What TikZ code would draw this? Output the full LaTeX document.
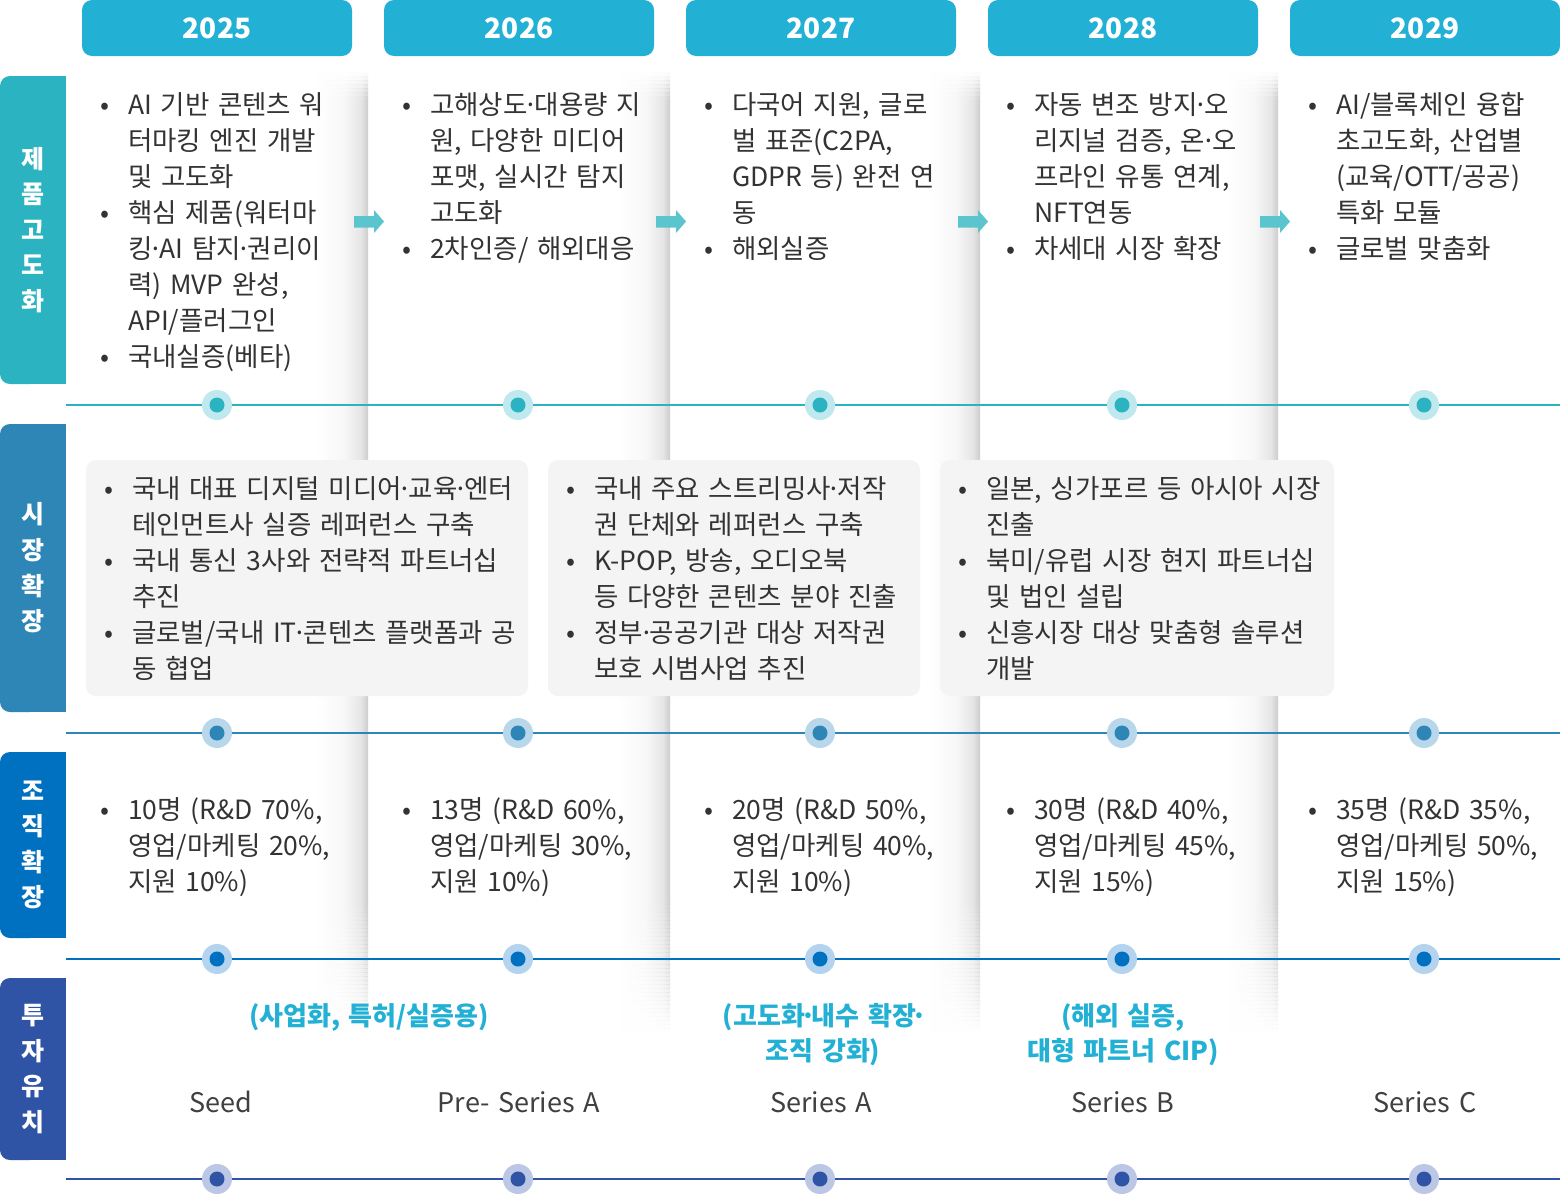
\documentclass[tikz,border=0pt]{standalone}
\usepackage{fontspec}
\setmainfont{Noto Sans CJK KR}[WordSpace=1.45]
\definecolor{hdr}{HTML}{22B0D4}
\definecolor{cA}{HTML}{2BB3C1}\definecolor{hA}{HTML}{BFE9EE}
\definecolor{cB}{HTML}{2E86B6}\definecolor{hB}{HTML}{B9D7EA}
\definecolor{cC}{HTML}{0070C0}\definecolor{hC}{HTML}{B3D3EF}
\definecolor{cD}{HTML}{2F53A5}\definecolor{hD}{HTML}{BCC7E5}
\definecolor{arr}{HTML}{5AC5CD}
\definecolor{txt}{HTML}{333333}
\definecolor{sertxt}{HTML}{404040}
\definecolor{boxg}{HTML}{F4F4F4}
\pgfdeclarehorizontalshading{colsh}{100bp}{color(0bp)=(white); color(25bp)=(white); color(52bp)=(white!97!black); color(68bp)=(white!90!black); color(75bp)=(white!80!black); color(100bp)=(white!80!black)}
\newcommand\bu{\makebox[28pt][l]{•}}
\newcommand\md{\makebox[7pt][c]{·}}
\newcommand\blist[1]{\begin{tabular}[t]{@{}l@{}l@{}}#1\end{tabular}}
\begin{document}
\begin{tikzpicture}[x=1pt,y=-1pt,
  body/.style={anchor=base west, inner sep=0pt, text=txt, font=\fontsize{26.5}{36}\selectfont},
  yr/.style={text=white, font=\fontsize{28}{30}\selectfont\bfseries, anchor=base, inner sep=0pt},
  lab/.style={text=white, font=\fontsize{25}{35.6}\selectfont\bfseries, align=center, inner sep=0pt},
  inv/.style={text=hdr, font=\fontsize{26}{35}\selectfont\bfseries, anchor=base, inner sep=0pt},
  ser/.style={text=sertxt, font=\fontsize{27}{30}\selectfont, anchor=base, inner sep=0pt},
  hbox/.style={fill=hdr, rounded corners=10pt},
  gbox/.style={fill=boxg, rounded corners=10pt},
  arrowshape/.style={fill=arr}
]
\useasboundingbox (0,0) rectangle (1560,1194);
\fill[white] (0,0) rectangle (1560,1194);

% column shadows
\foreach \e in {368,670,980,1278}{
  \shade[shading=colsh] (\e-52,100) rectangle (\e,900);
  \foreach \k in {0,...,6}{
    \pgfmathsetmacro\op{(\k+0.5)/7}
    \shade[shading=colsh, opacity=\op] (\e-52,72+4*\k) rectangle (\e,76.3+4*\k);
  }
  \foreach \k in {0,...,32}{
    \pgfmathsetmacro\op{1-(\k+0.5)/33}
    \shade[shading=colsh, opacity=\op] (\e-52,900+4*\k) rectangle (\e,904.3+4*\k);
  }
}

% year headers
\foreach \x/\y in {82/2025,384/2026,686/2027,988/2028,1290/2029}{
  \fill[hbox] (\x,0) rectangle (\x+270,56);
  \node[yr] (y\y) at (\x+135,38) {\y};
}

% left labels
\fill[cA, rounded corners=10pt] (0,76) rectangle (40,384); \fill[cA] (20,76) rectangle (66,384);
\fill[cB, rounded corners=10pt] (0,424) rectangle (40,712); \fill[cB] (20,424) rectangle (66,712);
\fill[cC, rounded corners=10pt] (0,752) rectangle (40,938); \fill[cC] (20,752) rectangle (66,938);
\fill[cD, rounded corners=10pt] (0,978) rectangle (40,1160); \fill[cD] (20,978) rectangle (66,1160);
\node[lab] (labA) at (33,230) {제\\품\\고\\도\\화};
\node[lab] (labB) at (33,568) {시\\장\\확\\장};
\node[lab] (labC) at (33,845) {조\\직\\확\\장};
\node[lab] (labD) at (33,1069) {투\\자\\유\\치};

% timelines
\foreach \yy/\c/\h [count=\r] in {405/cA/hA,733/cB/hB,959/cC/hC,1179/cD/hD}{
  \draw[\c, line width=2.2pt] (66,\yy) -- (1560,\yy);
  \foreach \x [count=\i] in {217,518,820,1122,1424}{
    \fill[\h] (\x,\yy) circle (15pt);
    \fill[\c] (\x,\yy) circle (7.5pt);
    \coordinate (d\r-\i) at (\x,\yy);
  }
}

% arrows
\foreach \x in {354,656,958,1260}{
  \fill[arrowshape] (\x,216) -- (\x+20,216) -- (\x+20,210) -- (\x+30,221.5) -- (\x+20,233) -- (\x+20,227.5) -- (\x,227.5) -- cycle;
}

% row 1
\node[body] (r1c1) at (100,114) {\blist{\bu & AI 기반 콘텐츠 워\\ & 터마킹 엔진 개발\\ & 및 고도화\\ \bu & 핵심 제품(워터마\\ & 킹\md AI 탐지\md 권리이\\ & 력) MVP 완성,\\ & API/플러그인\\ \bu & 국내실증(베타)}};
\node[body] (r1c2) at (402,114) {\blist{\bu & 고해상도\md 대용량 지\\ & 원, 다양한 미디어\\ & 포맷, 실시간 탐지\\ & 고도화\\ \bu & 2차인증/ 해외대응}};
\node[body] (r1c3) at (704,114) {\blist{\bu & 다국어 지원, 글로\\ & 벌 표준(C2PA,\\ & GDPR 등) 완전 연\\ & 동\\ \bu & 해외실증}};
\node[body] (r1c4) at (1006,114) {\blist{\bu & 자동 변조 방지\md 오\\ & 리지널 검증, 온\md 오\\ & 프라인 유통 연계,\\ & NFT연동\\ \bu & 차세대 시장 확장}};
\node[body] (r1c5) at (1308,114) {\blist{\bu & AI/블록체인 융합\\ & 초고도화, 산업별\\ & (교육/OTT/공공)\\ & 특화 모듈\\ \bu & 글로벌 맞춤화}};

% row 2
\fill[gbox] (86,460) rectangle (528,696);
\fill[gbox] (548,460) rectangle (920,696);
\fill[gbox] (940,460) rectangle (1334,696);
\node[body] (r2c1) at (104,498) {\blist{\bu & 국내 대표 디지털 미디어\md 교육\md 엔터\\ & 테인먼트사 실증 레퍼런스 구축\\ \bu & 국내 통신 3사와 전략적 파트너십\\ & 추진\\ \bu & 글로벌/국내 IT\md 콘텐츠 플랫폼과 공\\ & 동 협업}};
\node[body] (r2c2) at (566,498) {\blist{\bu & 국내 주요 스트리밍사\md 저작\\ & 권 단체와 레퍼런스 구축\\ \bu & K-POP, 방송, 오디오북\\ & 등 다양한 콘텐츠 분야 진출\\ \bu & 정부\md 공공기관 대상 저작권\\ & 보호 시범사업 추진}};
\node[body] (r2c3) at (958,498) {\blist{\bu & 일본, 싱가포르 등 아시아 시장\\ & 진출\\ \bu & 북미/유럽 시장 현지 파트너십\\ & 및 법인 설립\\ \bu & 신흥시장 대상 맞춤형 솔루션\\ & 개발}};

% row 3
\node[body] (r3c1) at (100,819) {\blist{\bu & 10명 (R\&D 70\%,\\ & 영업/마케팅 20\%,\\ & 지원 10\%)}};
\node[body] (r3c2) at (402,819) {\blist{\bu & 13명 (R\&D 60\%,\\ & 영업/마케팅 30\%,\\ & 지원 10\%)}};
\node[body] (r3c3) at (704,819) {\blist{\bu & 20명 (R\&D 50\%,\\ & 영업/마케팅 40\%,\\ & 지원 10\%)}};
\node[body] (r3c4) at (1006,819) {\blist{\bu & 30명 (R\&D 40\%,\\ & 영업/마케팅 45\%,\\ & 지원 15\%)}};
\node[body] (r3c5) at (1308,819) {\blist{\bu & 35명 (R\&D 35\%,\\ & 영업/마케팅 50\%,\\ & 지원 15\%)}};

% row 4
\node[inv] (i1) at (369,1025) {(사업화, 특허/실증용)};
\node[inv] (i2) at (823,1025) {\begin{tabular}[t]{@{}c@{}}(고도화\md 내수 확장\md\\조직 강화)\end{tabular}};
\node[inv] (i3) at (1123,1025) {\begin{tabular}[t]{@{}c@{}}(해외 실증,\\대형 파트너 CIP)\end{tabular}};
\node[ser] (s1) at (221,1112) {Seed};
\node[ser] (s2) at (519,1112) {Pre- Series A};
\node[ser] (s3) at (821,1112) {Series A};
\node[ser] (s4) at (1123,1112) {Series B};
\node[ser] (s5) at (1425,1112) {Series C};
\end{tikzpicture}
\end{document}
